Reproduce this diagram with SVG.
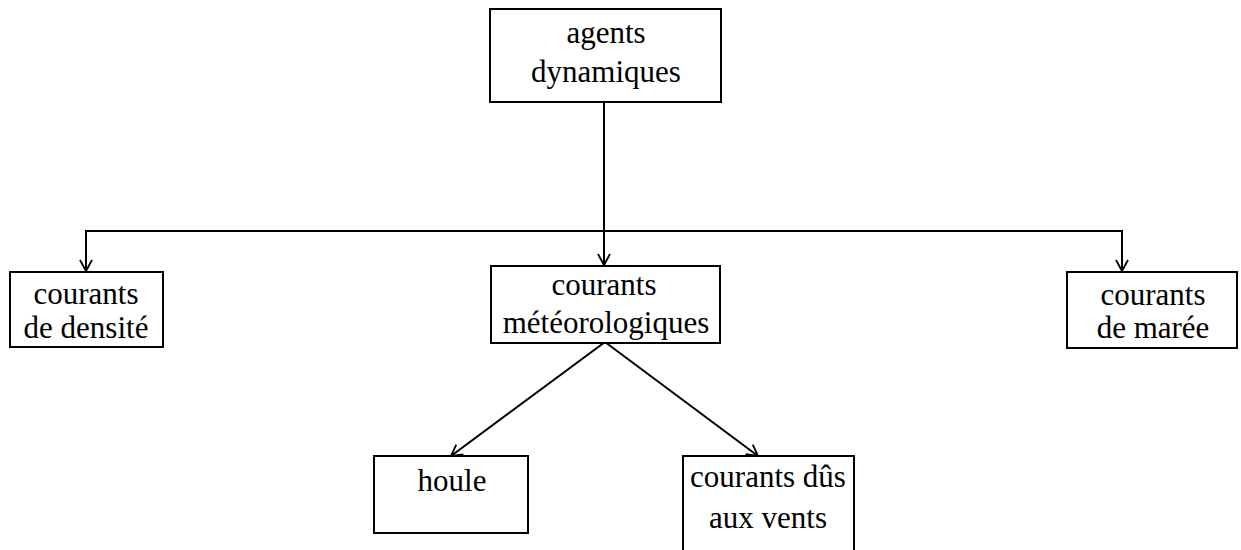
<svg xmlns="http://www.w3.org/2000/svg" width="1241" height="550" viewBox="0 0 1241 550">
<defs>
<marker id="arr" markerWidth="14" markerHeight="14" refX="12" refY="7" orient="auto" markerUnits="userSpaceOnUse">
<path d="M1,1 L12,7 L1,13" fill="none" stroke="#000" stroke-width="1.8"/>
</marker>
</defs>
<style>
.box{fill:#fff;stroke:#000;stroke-width:2}
.t{font-family:"Liberation Serif","Times New Roman",serif;font-size:31px;fill:#000;text-anchor:middle}
.c{fill:none;stroke:#000;stroke-width:2}
</style>
<rect width="1241" height="550" fill="#fff"/>
<g id="connectors">
<line class="c" x1="604" y1="102" x2="604" y2="265" marker-end="url(#arr)"/>
<polyline class="c" points="604,231 86,231 86,271" marker-end="url(#arr)"/>
<polyline class="c" points="604,231 1122,231 1122,271" marker-end="url(#arr)"/>
<line class="c" x1="605" y1="342" x2="451" y2="456" marker-end="url(#arr)"/>
<line class="c" x1="605" y1="342" x2="758" y2="456" marker-end="url(#arr)"/>
</g>
<g id="agents">
<rect class="box" x="490" y="9" width="231" height="93"/>
<text class="t" x="606" y="43">agents</text>
<text class="t" x="606" y="82">dynamiques</text>
</g>
<g id="densite">
<rect class="box" x="10" y="272" width="153" height="75"/>
<text class="t" x="86" y="304">courants</text>
<text class="t" x="86" y="338">de densité</text>
</g>
<g id="meteo">
<rect class="box" x="491" y="266" width="229" height="77"/>
<text class="t" x="604" y="295">courants</text>
<text class="t" x="606" y="333">météorologiques</text>
</g>
<g id="maree">
<rect class="box" x="1067" y="272" width="170" height="76"/>
<text class="t" x="1153" y="305">courants</text>
<text class="t" x="1153" y="338">de marée</text>
</g>
<g id="houle">
<rect class="box" x="374" y="456" width="154" height="77"/>
<text class="t" x="452" y="491">houle</text>
</g>
<g id="vents">
<rect class="box" x="683" y="456" width="171" height="100"/>
<text class="t" x="768" y="487">courants dûs</text>
<text class="t" x="768" y="528">aux vents</text>
</g>
</svg>
